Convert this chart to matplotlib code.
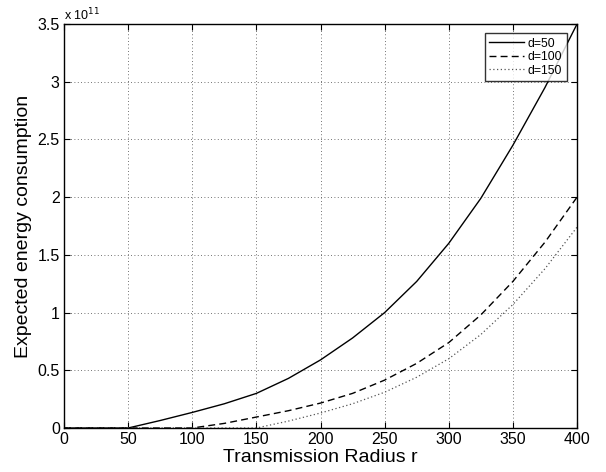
import matplotlib
matplotlib.use("Agg")
import matplotlib.pyplot as plt
from matplotlib.ticker import FuncFormatter

plt.rcParams["font.family"] = ["Liberation Sans", "DejaVu Sans"]

# transmission radius r
radius = [0, 25, 50, 75, 100, 125, 150, 175, 200, 225, 250, 275, 300, 325, 350, 375, 400]

# expected energy consumption (in 1e11 units)
energy_d50 = [0, 0, 0, 0.065, 0.135, 0.21, 0.30, 0.43, 0.59, 0.78, 1.0, 1.27, 1.60, 1.99, 2.45, 2.95, 3.5]
energy_d100 = [0, 0, 0, 0, 0, 0.04, 0.095, 0.15, 0.216, 0.30, 0.415, 0.56, 0.74, 0.98, 1.27, 1.61, 2.0]
energy_d150 = [0, 0, 0, 0, 0, 0, 0, 0.06, 0.13, 0.21, 0.31, 0.44, 0.60, 0.81, 1.07, 1.38, 1.74]
scale = 1e11

fig = plt.figure(figsize=(6.06, 4.72), dpi=100)
ax = fig.add_axes([0.1056, 0.0932, 0.8466, 0.8559])

ax.plot(radius, [v * scale for v in energy_d50], color="black", lw=1.0, ls="-", label="d=50")
ax.plot(radius, [v * scale for v in energy_d100], color="black", lw=1.0, ls=(0, (5, 3)), label="d=100")
ax.plot(radius, [v * scale for v in energy_d150], color="#555555", lw=0.9, ls=(0, (1, 2)), label="d=150")

ax.set_xlim(0, 400)
ax.set_ylim(0, 3.5e11)
ax.set_xticks(range(0, 401, 50))
ax.set_yticks([i * 0.5e11 for i in range(8)])
ax.yaxis.set_major_formatter(FuncFormatter(lambda v, p: "%g" % (v / scale)))

ax.grid(True, ls=(0, (1, 3)), color="#444444", lw=0.6)
ax.tick_params(direction="in", top=True, right=True, labelsize=11.5, length=4, pad=3)
for s in ax.spines.values():
    s.set_linewidth(1.0)

ax.set_xlabel("Transmission Radius r", fontsize=14, labelpad=1)
ax.set_ylabel("Expected energy consumption", fontsize=14, labelpad=4)
ax.text(0.0, 1.003, r"x 10$^{11}$", transform=ax.transAxes, fontsize=9, ha="left", va="bottom")

leg = ax.legend(loc="upper right", fontsize=8.8, frameon=True, fancybox=False,
                edgecolor="black", handlelength=2.8, handletextpad=0.35,
                borderpad=0.35, labelspacing=0.12, borderaxespad=0,
                bbox_to_anchor=(0.98, 0.977))
leg.get_frame().set_linewidth(1.0)

fig.savefig("out.png", dpi=100)
